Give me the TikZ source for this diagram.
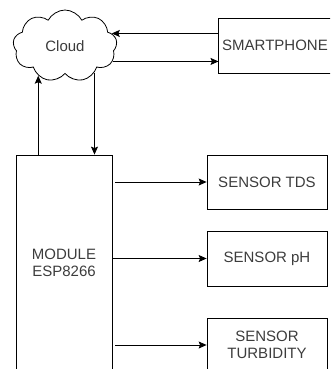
\documentclass[tikz,border=0pt]{standalone}
\usepackage{fontspec}
\setmainfont{Liberation Sans}
\usepackage{tikz}
\usetikzlibrary{arrows,arrows.meta,shapes}
\definecolor{txtgray}{HTML}{3C3C3C}
\tikzstyle{block}=[draw,rectangle,line width=0.8pt,text=txtgray,align=center,font=\fontsize{15}{17}\selectfont]
\tikzstyle{cloudy}=[draw,cloud,cloud puffs=9,cloud puff arc=125,aspect=1.45,line width=0.8pt,text=txtgray,font=\fontsize{15}{17}\selectfont]
\tikzstyle{edge} = [draw,line width=0.8pt,->,>={Stealth[length=8pt,width=7pt,inset=1.5pt]}]

\begin{document}
\begin{tikzpicture}[x=1pt,y=-1pt]
        \useasboundingbox (0,0) rectangle (330,369);
        \clip (0,0) rectangle (330,369);
        \node[cloudy,minimum width=104pt,minimum height=72pt,inner sep=0pt] (cloud) at (65,46) {Cloud};
        \node[block,minimum width=112pt,minimum height=55pt] (phone) at (275,45.5) {SMARTPHONE};
        \node[block,minimum width=96pt,minimum height=216pt] (esp) at (64,263) {MODULE\\ESP8266};
        \node[block,minimum width=120pt,minimum height=54pt] (tds) at (267,182) {SENSOR TDS};
        \node[block,minimum width=120pt,minimum height=55pt] (ph) at (267,258.5) {SENSOR pH};
        \node[block,minimum width=120pt,minimum height=54pt,inner sep=1pt] (turb) at (267,345) {SENSOR\\TURBIDITY};
        \draw[edge] (cloud.15 -| phone.west) to (cloud.15);
        \draw[edge] (cloud.-18) to (cloud.-18 -| phone.west);
        \draw[edge] (cloud.228 |- esp.north) to (cloud.228);
        \draw[edge] (cloud.318) to (cloud.318 |- esp.north);
        \draw[edge,shorten <=3pt] (esp.east |- tds.west) to (tds.west);
        \draw[edge] (esp.east |- ph.west) to (ph.west);
        \draw[edge,shorten <=3pt] (esp.east |- turb.west) to (turb.west);
      \end{tikzpicture}
\end{document}
